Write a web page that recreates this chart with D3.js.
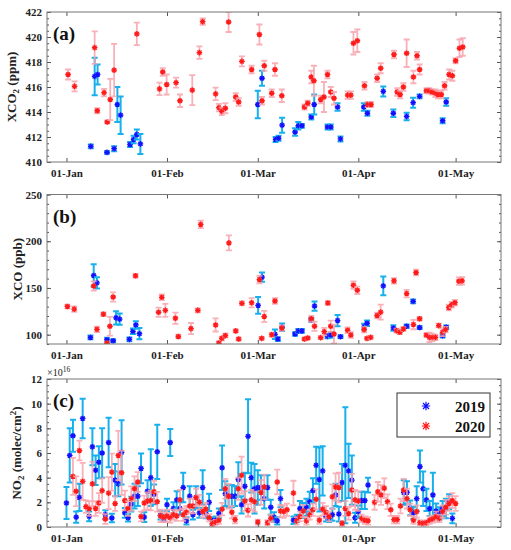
<!DOCTYPE html>
<html>
<head>
<meta charset="utf-8">
<script src="https://cdn.jsdelivr.net/npm/d3@7"></script>
<style>
  body { margin: 0; background: #fff; }
  svg { display: block; }
  text { font-family: "Liberation Serif", "Times New Roman", serif; }
</style>
</head>
<body>
<svg id="chart"></svg>
<script>
// each point: [day of year (0 = 01-Jan), value, error half-width]

// (a) XCO2, ppm
const co2_2019 = [
  [7.5, 411.25, 0.15], [8.7, 416.85, 1.5], [9.6, 417.0, 0.8], [12.5, 410.77, 0.1],
  [14.7, 411.07, 0.2], [15.7, 414.6, 1.4], [16.7, 413.75, 1.5], [19.6, 411.4, 0.2],
  [20.7, 411.8, 0.3], [21.7, 412.2, 0.4], [22.8, 411.45, 0.8], [59, 414.6, 1.1],
  [60.3, 416.7, 0.6], [64.5, 411.8, 0.2], [65.4, 411.9, 0.2], [66.5, 412.95, 0.6],
  [70.5, 412.4, 0.3], [71.5, 412.9, 0.3], [72.6, 412.9, 0.15], [75.5, 413.6, 0.2],
  [76.4, 414.6, 0.8], [80.5, 412.8, 0.2], [81.5, 412.8, 0.2], [83.6, 414.4, 0.3],
  [84.5, 411.85, 0.2], [91.7, 414.4, 0.3], [92.8, 413.9, 0.2], [97.7, 415.65, 0.4],
  [100.8, 413.9, 0.3], [104.9, 413.65, 0.3], [106.9, 414.75, 0.4], [108.9, 415.25, 0.15],
  [116, 413.3, 0.2], [117.1, 414.8, 0.3]
];
const co2_2020 = [
  [0.5, 417.0, 0.4], [2.5, 416.05, 0.4], [8.7, 419.15, 1.3], [9.5, 414.1, 0.2],
  [11.6, 415.55, 0.3], [12.6, 413.2, 0.1], [13.5, 415.0, 1.65], [14.7, 417.35, 2.1],
  [21.7, 420.25, 0.9], [28.7, 415.85, 0.5], [29.7, 417.2, 0.3], [30.9, 416.2, 0.8],
  [33.8, 416.35, 0.4], [35, 414.9, 0.5], [38.8, 415.75, 1.2], [41, 418.75, 0.5],
  [42, 421.23, 0.25], [46, 415.45, 0.5], [47, 414.35, 0.3], [47.9, 414.05, 0.3],
  [49, 414.3, 0.4], [50, 421.2, 0.8], [52.2, 415.2, 0.3], [53.1, 414.8, 0.3],
  [54.1, 418.05, 0.4], [57.1, 417.4, 0.3], [59.5, 420.2, 0.8], [60.3, 414.9, 0.3],
  [61, 417.7, 0.4], [63.3, 415.5, 0.3], [64.3, 417.4, 0.5], [66.4, 415.3, 0.5],
  [73.4, 414.4, 0.2], [74.4, 414.7, 0.2], [75.5, 416.8, 0.5], [76.3, 416.5, 1.2],
  [78.4, 415.0, 0.3], [79.4, 415.2, 1.2], [80.5, 417.0, 0.3], [81.5, 415.6, 0.4],
  [82.5, 415.1, 0.5], [86.7, 415.35, 0.3], [87.7, 415.35, 0.3], [88.5, 419.5, 0.9],
  [89.7, 419.7, 0.9], [91.9, 416.1, 0.3], [92.9, 414.6, 0.2], [93.9, 414.6, 0.2],
  [95.8, 416.7, 0.3], [96.9, 417.5, 0.4], [101, 418.6, 0.3], [102, 415.6, 0.3],
  [102.9, 415.4, 0.3], [103.9, 416.0, 0.3], [104.9, 418.7, 1.1], [107, 416.8, 0.5],
  [108.1, 418.5, 0.3], [108.9, 417.4, 0.4], [111, 415.7, 0.2], [111.9, 415.7, 0.2],
  [112.8, 415.6, 0.2], [113.8, 415.5, 0.3], [114.6, 415.4, 0.3], [115.6, 415.4, 0.3],
  [116.6, 416.1, 0.3], [118, 417.0, 0.4], [119, 416.9, 0.4], [120, 418.1, 0.2],
  [121.2, 419.1, 0.7], [122.2, 419.2, 0.7]
];

// (b) XCO, ppb
const co_2019 = [
  [7.4, 97, 2], [8.4, 163.3, 12], [9.4, 155.4, 6], [12.5, 94.6, 2], [14.4, 93.5, 1.5],
  [15.3, 118, 7], [16.4, 116.6, 6], [19.4, 95, 2], [20.5, 103.6, 3], [21.4, 110.4, 4],
  [22.5, 101, 6], [59.1, 131.3, 9], [60.3, 161.5, 5], [64.3, 100.4, 5], [65.2, 95.3, 2],
  [66.5, 107.9, 4], [70.5, 100.7, 2], [71.5, 104, 2], [72.6, 104, 2], [75.5, 115.8, 2],
  [76.5, 130.6, 5], [80.5, 98.2, 2], [81.5, 99.6, 3], [83.6, 115.1, 6], [84.5, 97.8, 1.5],
  [91.8, 108.6, 3], [92.7, 112.2, 3], [97.7, 152.2, 10], [100.8, 107.2, 3], [104.9, 109, 2],
  [106.9, 135.6, 2], [108.9, 107.6, 1.5], [116, 99, 2], [117.1, 107.9, 2]
];
const co_2020 = [
  [0.3, 130.2, 2], [2.4, 127.3, 3], [8.4, 152.1, 5], [9.4, 105.7, 3], [11.4, 121.9, 2],
  [12.5, 91, 1], [13.4, 109, 10], [14.4, 140.3, 5], [21.3, 163, 2], [28.4, 124, 5],
  [29.4, 140, 3], [30.5, 126, 7], [33.6, 117.6, 6], [34.5, 98, 2], [38.4, 106.5, 6],
  [40.5, 126, 2], [41.4, 218, 4], [46, 110.4, 7], [47, 91, 2], [47.9, 96, 2],
  [49, 99, 2], [50.1, 198.2, 8], [52.2, 104, 1.5], [53.1, 95.3, 1.5], [54.1, 133.5, 2],
  [57.1, 134.2, 5], [59.5, 159, 4], [60.2, 96, 1.5], [61, 119.4, 6], [63.3, 100, 2],
  [64.3, 136, 3], [66.4, 107, 3], [73.4, 95.3, 1.5], [74.4, 96.4, 1.5], [75.5, 117, 3],
  [76.5, 109, 5], [78.4, 96.8, 1.5], [79.5, 103.2, 4], [80.6, 133.8, 2], [81.5, 109, 6],
  [82.5, 100.7, 10], [86.7, 104.7, 3], [87.7, 99.6, 3], [88.5, 152.9, 4], [89.7, 147.5, 4],
  [91.8, 105.4, 3], [92.7, 96, 1.5], [93.8, 97.1, 1.5], [95.8, 120.5, 3], [96.9, 124.1, 8],
  [101, 157.6, 3], [101.8, 104.3, 2], [102.8, 102.5, 2], [103.9, 106, 2], [104.9, 144, 4],
  [107, 110.8, 5], [107.8, 166.5, 3], [108.9, 117, 2], [111, 99.6, 2], [111.9, 97.1, 5],
  [112.8, 97.1, 4], [113.8, 97.1, 3], [114.8, 109.7, 2], [116, 102.5, 4], [116.9, 105.4, 3],
  [117.9, 129.1, 3], [118.8, 132, 3], [119.8, 134.2, 3], [121, 157.2, 4], [122, 157.6, 4]
];

// (c) NO2, 1e16 molec/cm2
const no2_2019 = [
  [0, 1.95, 1.3], [1, 5.8, 2.2], [2, 7.4, 1.3], [3, 0.8, 0.45], [4, 2.4, 1.1], [5, 8.8, 1.6],
  [7, 0.86, 0.4], [8, 6.5, 1.5], [9, 4.6, 1.2], [10, 5.25, 1.3], [11, 6.0, 2.0], [12, 1.0, 0.35],
  [13, 6.85, 2.0], [14, 0.73, 0.35], [15, 3.8, 1.3], [16, 3.5, 1.0], [17, 6.05, 2.6], [18, 1.15, 0.4],
  [19, 0.75, 0.3], [20, 1.85, 0.6], [21, 2.5, 1.0], [22, 2.5, 0.8], [23, 4.75, 1.2], [24, 0.8, 0.4],
  [25, 2.9, 0.9], [26, 4.0, 2.3], [27, 2.65, 0.8], [28, 6.1, 2.2], [29, 0.95, 0.35], [30, 0.7, 0.3],
  [31, 1.8, 0.5], [32, 6.85, 1.1], [33, 1.5, 0.5], [34, 2.2, 0.7], [35, 1.5, 0.5], [36, 3.2, 1.2],
  [37, 0.5, 0.3], [38, 2.5, 0.8], [39, 1.0, 0.4], [40, 2.4, 0.9], [41, 1.15, 0.4], [42, 3.2, 1.4],
  [43, 1.1, 0.4], [44, 2.0, 0.7], [45, 0.5, 0.3], [46, 0.55, 0.3], [47, 1.1, 0.4], [48, 4.8, 1.8],
  [49, 2.7, 1.0], [50, 2.5, 0.9], [51, 2.5, 0.9], [52, 2.5, 0.8], [53, 3.85, 1.4], [54, 1.8, 0.7],
  [55, 3.3, 1.1], [56, 7.35, 3.0], [57, 4.0, 1.2], [58, 3.1, 2.0], [59, 3.2, 1.4], [60, 3.2, 1.0],
  [61, 2.3, 0.8], [62, 3.2, 1.0], [63, 1.6, 0.6], [64, 0.8, 0.4], [65, 0.5, 0.3], [66, 2.3, 0.7],
  [70, 0.55, 0.3], [71, 0.7, 0.3], [72, 1.5, 0.6], [73, 1.35, 0.6], [74, 1.6, 0.7], [75, 2.05, 0.8],
  [76, 2.95, 1.0], [77, 5.0, 1.5], [78, 3.85, 2.6], [79, 4.55, 2.0], [80, 0.85, 0.4], [81, 0.7, 0.3],
  [82, 1.0, 0.5], [83, 2.6, 0.9], [84, 1.05, 0.6], [85, 3.6, 1.5], [86, 5.0, 4.7], [87, 4.55, 2.2],
  [88, 3.8, 2.0], [89, 0.75, 0.4], [90, 1.25, 0.5], [91, 2.15, 0.7], [92, 2.15, 0.7], [93, 3.4, 0.6],
  [104, 2.8, 1.0], [105, 2.8, 0.9], [106, 1.55, 0.6], [107, 1.15, 0.5], [108, 2.3, 1.0], [109, 4.9, 1.3],
  [110, 3.1, 1.4], [111, 2.2, 0.9], [112, 1.5, 0.6], [113, 2.6, 1.8], [114, 1.3, 0.6], [115, 1.1, 0.5],
  [116, 1.5, 0.6], [117, 1.5, 0.8], [118, 2.05, 0.6], [119, 0.7, 0.4]
];
const no2_2020 = [
  [2, 4.1, 1.5], [3, 2.9, 1.2], [4, 6.2, 0.8], [5, 3.7, 1.5], [6, 1.65, 0.5], [7, 1.5, 0.6],
  [8, 3.5, 1.8], [9, 1.5, 0.6], [10, 1.95, 0.8], [11, 2.95, 1.0], [12, 0.65, 0.4], [13, 2.75, 1.3],
  [14, 4.45, 1.5], [15, 1.9, 0.6], [16, 5.8, 2.0], [17, 4.4, 1.8], [18, 2.15, 0.8], [19, 1.5, 0.6],
  [20, 2.3, 1.0], [21, 3.1, 1.0], [22, 3.65, 0.8], [23, 0.85, 0.4], [24, 1.95, 0.6], [25, 2.1, 0.7],
  [26, 2.15, 0.8], [27, 2.85, 0.9], [28, 2.05, 0.8], [29, 0.9, 0.5], [30, 0.8, 0.4], [31, 0.9, 0.5],
  [32, 0.75, 0.4], [33, 1.0, 0.4], [34, 0.9, 0.4], [35, 2.2, 0.8], [36, 1.0, 0.5], [37, 1.2, 0.5],
  [38, 1.7, 0.6], [39, 1.7, 0.6], [40, 2.4, 0.7], [41, 2.0, 0.6], [42, 1.25, 0.5], [43, 1.45, 0.5],
  [44, 0.75, 0.3], [45, 0.27, 0.2], [46, 0.38, 0.2], [47, 0.55, 0.3], [48, 1.45, 0.5], [49, 3.1, 0.8],
  [50, 2.5, 1.0], [51, 1.2, 0.5], [52, 0.6, 0.3], [53, 3.1, 0.9], [54, 4.2, 1.5], [55, 2.1, 0.8],
  [56, 1.35, 0.5], [57, 2.2, 0.8], [58, 2.05, 0.8], [59, 0.4, 0.2], [60, 2.8, 1.0], [61, 3.25, 1.0],
  [62, 0.35, 0.2], [63, 0.7, 0.3], [65, 3.65, 1.0], [66, 1.3, 0.5], [67, 1.25, 0.5], [68, 1.4, 0.5],
  [70, 2.75, 1.0], [71, 0.5, 0.3], [72, 0.85, 0.4], [73, 1.3, 0.5], [74, 0.5, 0.3], [75, 1.0, 0.4],
  [76, 1.4, 0.5], [77, 2.25, 0.8], [78, 0.55, 0.3], [79, 1.45, 0.5], [80, 1.2, 0.5], [81, 0.85, 0.4],
  [82, 2.45, 1.0], [83, 3.25, 1.1], [84, 3.2, 1.2], [85, 0.3, 0.2], [86, 1.5, 0.6], [87, 1.1, 0.5],
  [88, 3.0, 1.3], [89, 2.2, 0.8], [90, 2.1, 0.8], [91, 0.7, 0.3], [92, 0.55, 0.3], [93, 0.5, 0.3],
  [95, 2.0, 0.6], [96, 2.85, 0.8], [97, 2.6, 0.8], [98, 3.15, 0.8], [99, 2.05, 0.6], [100, 1.4, 0.5],
  [101, 0.6, 0.3], [102, 0.6, 0.3], [103, 1.7, 0.6], [104, 3.0, 0.9], [105, 2.3, 0.8], [106, 1.4, 0.5],
  [107, 0.55, 0.3], [108, 1.25, 0.5], [109, 0.35, 0.2], [110, 0.3, 0.2], [111, 0.35, 0.2], [112, 0.55, 0.3],
  [113, 0.65, 0.3], [114, 0.85, 0.4], [115, 0.7, 0.3], [116, 1.25, 0.5], [117, 1.6, 0.6], [118, 1.9, 0.6],
  [119, 2.15, 0.6], [120, 1.9, 0.6]
];

const years = ['2019', '2020'];
const co2Ticks = [410, 412, 414, 416, 418, 420, 422];
const coTicks = [100, 150, 200, 250];
const no2Ticks = [0, 2, 4, 6, 8, 10, 12];

// ---- layout ----
const W = 511, H = 550;
const left = 47, right = 501;
const style = {
  '2019': { mark: '#1010ff', halo: '#8c8cff', bar: '#18b0ec', barWidth: 2 },
  '2020': { mark: '#ff1a1a', halo: '#ff9a9a', bar: '#f7a2ad', barWidth: 1.8 }
};

const svg = d3.select('#chart').attr('width', W).attr('height', H);

const jan1 = new Date(2019, 0, 1);
const toDate = d => new Date(jan1.getTime() + d * 864e5);

const x = d3.scaleTime()
  .domain([toDate(-6), toDate(134)])
  .range([left, right]);
const monthTicks = d3.timeMonth.range(jan1, new Date(2019, 4, 2));

function star(s) {
  const a = s * 0.72;
  return `M${-s},0H${s}M0,${-s}V${s}M${-a},${-a}L${a},${a}M${-a},${a}L${a},${-a}`;
}

function drawPanel(p) {
  const y = d3.scaleLinear().domain(p.domain).range([p.bottom, p.top]);
  const g = svg.append('g');

  g.append('clipPath').attr('id', p.id + '-clip')
    .append('rect')
    .attr('x', left).attr('y', p.top)
    .attr('width', right - left).attr('height', p.bottom - p.top);

  const plot = g.append('g').attr('clip-path', `url(#${p.id}-clip)`);

  p.series.forEach(function(s, si) {
    const st = style[years[si]];
    const pts = plot.append('g').selectAll('g')
      .data(s)
      .enter()
      .append('g')
      .attr('transform', d => `translate(${x(toDate(d[0]))},0)`);

    // error bars with caps
    pts.append('path')
      .attr('d', function(d) {
        const y0 = y(d[1] - d[2]), y1 = y(d[1] + d[2]);
        return `M0,${y0}V${y1}M-3,${y0}H3M-3,${y1}H3`;
      })
      .attr('fill', 'none')
      .attr('stroke', st.bar)
      .attr('stroke-width', st.barWidth)
      .attr('opacity', si === 1 ? 0.85 : 1);

    pts.append('circle')
      .attr('cy', d => y(d[1]))
      .attr('r', 2.6)
      .attr('fill', st.halo)
      .attr('opacity', 0.6);

    pts.append('path')
      .attr('d', star(2.8))
      .attr('transform', d => `translate(0,${y(d[1])})`)
      .attr('fill', 'none')
      .attr('stroke', st.mark)
      .attr('stroke-width', 1.3);
  });

  // axes, ticks pointing inward
  const fmt = d3.format('d');
  g.append('g')
    .attr('transform', `translate(${left},0)`)
    .call(d3.axisLeft(y).tickValues(p.ticks).tickSize(-4).tickPadding(5).tickFormat(fmt))
    .call(a => a.select('.domain').remove());
  g.append('g')
    .attr('transform', `translate(${left},0)`)
    .call(d3.axisLeft(y).tickValues(p.minor).tickSize(-2).tickFormat(''))
    .call(a => a.select('.domain').remove());
  g.append('g')
    .attr('transform', `translate(${right},0)`)
    .call(d3.axisRight(y).tickValues(p.ticks).tickSize(-4).tickFormat(''))
    .call(a => a.select('.domain').remove());
  g.append('g')
    .attr('transform', `translate(${right},0)`)
    .call(d3.axisRight(y).tickValues(p.minor).tickSize(-2).tickFormat(''))
    .call(a => a.select('.domain').remove());
  g.append('g')
    .attr('transform', `translate(0,${p.bottom})`)
    .call(d3.axisBottom(x).tickValues(monthTicks).tickSize(-4).tickPadding(7)
      .tickFormat(d3.timeFormat('%d-%b')))
    .call(a => a.select('.domain').remove());
  g.append('g')
    .attr('transform', `translate(0,${p.top})`)
    .call(d3.axisTop(x).tickValues(monthTicks).tickSize(-4).tickFormat(''))
    .call(a => a.select('.domain').remove());

  g.selectAll('.tick line').attr('stroke', '#555');
  g.selectAll('.tick text')
    .attr('font-family', '"Liberation Serif", serif')
    .attr('font-size', 11)
    .attr('font-weight', 'bold')
    .attr('fill', '#222');

  g.append('rect')
    .attr('x', left).attr('y', p.top)
    .attr('width', right - left).attr('height', p.bottom - p.top)
    .attr('fill', 'none')
    .attr('stroke', '#777')
    .attr('stroke-width', 1);

  // panel letter
  g.append('text')
    .attr('x', 53).attr('y', p.top + 28)
    .attr('font-size', 19).attr('font-weight', 'bold')
    .attr('fill', '#111')
    .text(p.letter);

  // y title
  const t = g.append('text')
    .attr('transform', `translate(${p.titleX},${(p.top + p.bottom) / 2}) rotate(-90)`)
    .attr('text-anchor', 'middle')
    .attr('font-size', 13).attr('font-weight', 'bold')
    .attr('fill', '#222');
  p.title.forEach(function(part) {
    const sp = t.append('tspan').text(part[0]);
    if (part[1] === 'sub') sp.attr('font-size', 9).attr('dy', 3);
    if (part[1] === 'back') sp.attr('dy', -3);
    if (part[1] === 'sup') sp.attr('font-size', 9).attr('dy', -5);
    if (part[1] === 'supback') sp.attr('dy', 5);
  });

  return y;
}

const range = (a, b, s) => d3.range(a, b + s / 2, s);

drawPanel({
  id: 'pa', letter: '(a)', top: 12, bottom: 162,
  domain: [410, 422], ticks: co2Ticks, minor: range(410, 422, 0.5),
  series: [co2_2019, co2_2020], titleX: 16,
  title: [['XCO'], ['2', 'sub'], [' (ppm)', 'back']]
});

drawPanel({
  id: 'pb', letter: '(b)', top: 194.5, bottom: 344,
  domain: [90, 250], ticks: coTicks, minor: range(90, 250, 10),
  series: [co_2019, co_2020], titleX: 22,
  title: [['XCO (ppb)']]
});

drawPanel({
  id: 'pc', letter: '(c)', top: 379, bottom: 527,
  domain: [0, 12], ticks: no2Ticks, minor: range(0, 12, 0.5),
  series: [no2_2019, no2_2020], titleX: 21,
  title: [['NO'], ['2', 'sub'], [' (molec/cm', 'back'], ['2', 'sup'], [')', 'supback']]
});

// exponent label
const ex = svg.append('text')
  .attr('x', 47).attr('y', 376)
  .attr('font-size', 10).attr('fill', '#222');
ex.append('tspan').text('\u00d710');
ex.append('tspan').text('16').attr('font-size', 7.5).attr('dy', -4);

// legend
const lg = svg.append('g');
lg.append('rect')
  .attr('x', 397).attr('y', 393)
  .attr('width', 93).attr('height', 44)
  .attr('fill', '#fff')
  .attr('stroke', '#333')
  .attr('stroke-width', 1);
years.forEach(function(yr, i) {
  const cy = 406 + i * 20;
  lg.append('path')
    .attr('d', star(4.2))
    .attr('transform', `translate(426,${cy})`)
    .attr('fill', 'none')
    .attr('stroke', style[yr].mark)
    .attr('stroke-width', 1.2);
  lg.append('text')
    .attr('x', 485).attr('y', cy + 5.5)
    .attr('text-anchor', 'end')
    .attr('font-size', 15).attr('font-weight', 'bold')
    .attr('fill', '#111')
    .text(yr);
});
</script>
</body>
</html>
